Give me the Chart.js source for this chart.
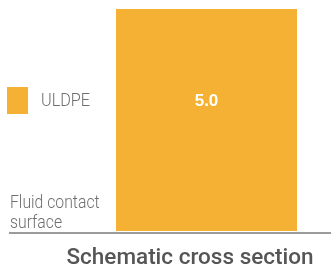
<!DOCTYPE html>
<html>
<head>
<meta charset="utf-8">
<script src="https://cdn.jsdelivr.net/npm/chart.js@4"></script>
<style>
  html, body { margin: 0; padding: 0; background: #fff; }
  #wrap { width: 331px; height: 266px; position: relative; }
</style>
</head>
<body>
<div id="wrap"><canvas id="chart" width="331" height="266"></canvas></div>
<script>
// data
const categories = ["ULDPE"];
const values = [5.0];
const valueLabels = ["5.0"];
const sideLabel = ["Fluid contact", "surface"];
const chartTitle = "Schematic cross section";

const barColor = "#F5B133";
const textGrey = "#6e6e6e";
const light = "Roboto, 'Liberation Sans', sans-serif";

// narrow text: squeeze horizontally, like the condensed face in the original
function narrowText(c, text, x, y, squeeze) {
  c.save();
  c.translate(x, y);
  c.scale(squeeze, 1);
  c.fillText(text, 0, 0);
  c.restore();
}

// draws the axis line, legend, side text, title and value label
const decorations = {
  id: "decorations",
  afterDraw(chart) {
    const c = chart.ctx;
    const area = chart.chartArea;
    c.save();

    // baseline
    c.strokeStyle = "#7a7a7a";
    c.lineWidth = 1.5;
    c.beginPath();
    c.moveTo(9, area.bottom + 2);
    c.lineTo(chart.width, area.bottom + 2);
    c.stroke();

    // legend
    c.fillStyle = barColor;
    c.fillRect(7, 87, 21, 27);
    c.fillStyle = textGrey;
    c.font = "300 18px " + light;
    c.textBaseline = "alphabetic";
    c.textAlign = "left";
    narrowText(c, categories[0], 41, 106, 0.9);

    // side label
    c.font = "300 19px " + light;
    sideLabel.forEach((t, i) => narrowText(c, t, 10, 208 + i * 20, 0.83));

    // title
    c.fillStyle = "#555";
    c.font = "500 22.5px Roboto, 'Liberation Sans', sans-serif";
    c.textAlign = "center";
    c.fillText(chartTitle, 190, 264);

    // value labels
    const meta = chart.getDatasetMeta(0);
    c.fillStyle = "#fff";
    c.font = "bold 17px 'Liberation Sans', sans-serif";
    meta.data.forEach((bar, i) => {
      const y = bar.y + (bar.base - bar.y) * 0.438;
      c.fillText(valueLabels[i], bar.x, y);
    });

    c.restore();
  }
};

new Chart(document.getElementById("chart").getContext("2d"), {
  type: "bar",
  data: {
    labels: categories,
    datasets: [{
      data: values,
      backgroundColor: barColor,
      borderWidth: 0,
      barPercentage: 1,
      categoryPercentage: 1
    }]
  },
  options: {
    responsive: false,
    animation: false,
    layout: { padding: { left: 116, right: 34, top: 9, bottom: 35 } },
    plugins: { legend: { display: false }, tooltip: { enabled: false } },
    scales: {
      x: { display: false },
      y: { display: false, min: 0, max: 5 }
    }
  },
  plugins: [decorations]
});
</script>
</body>
</html>
